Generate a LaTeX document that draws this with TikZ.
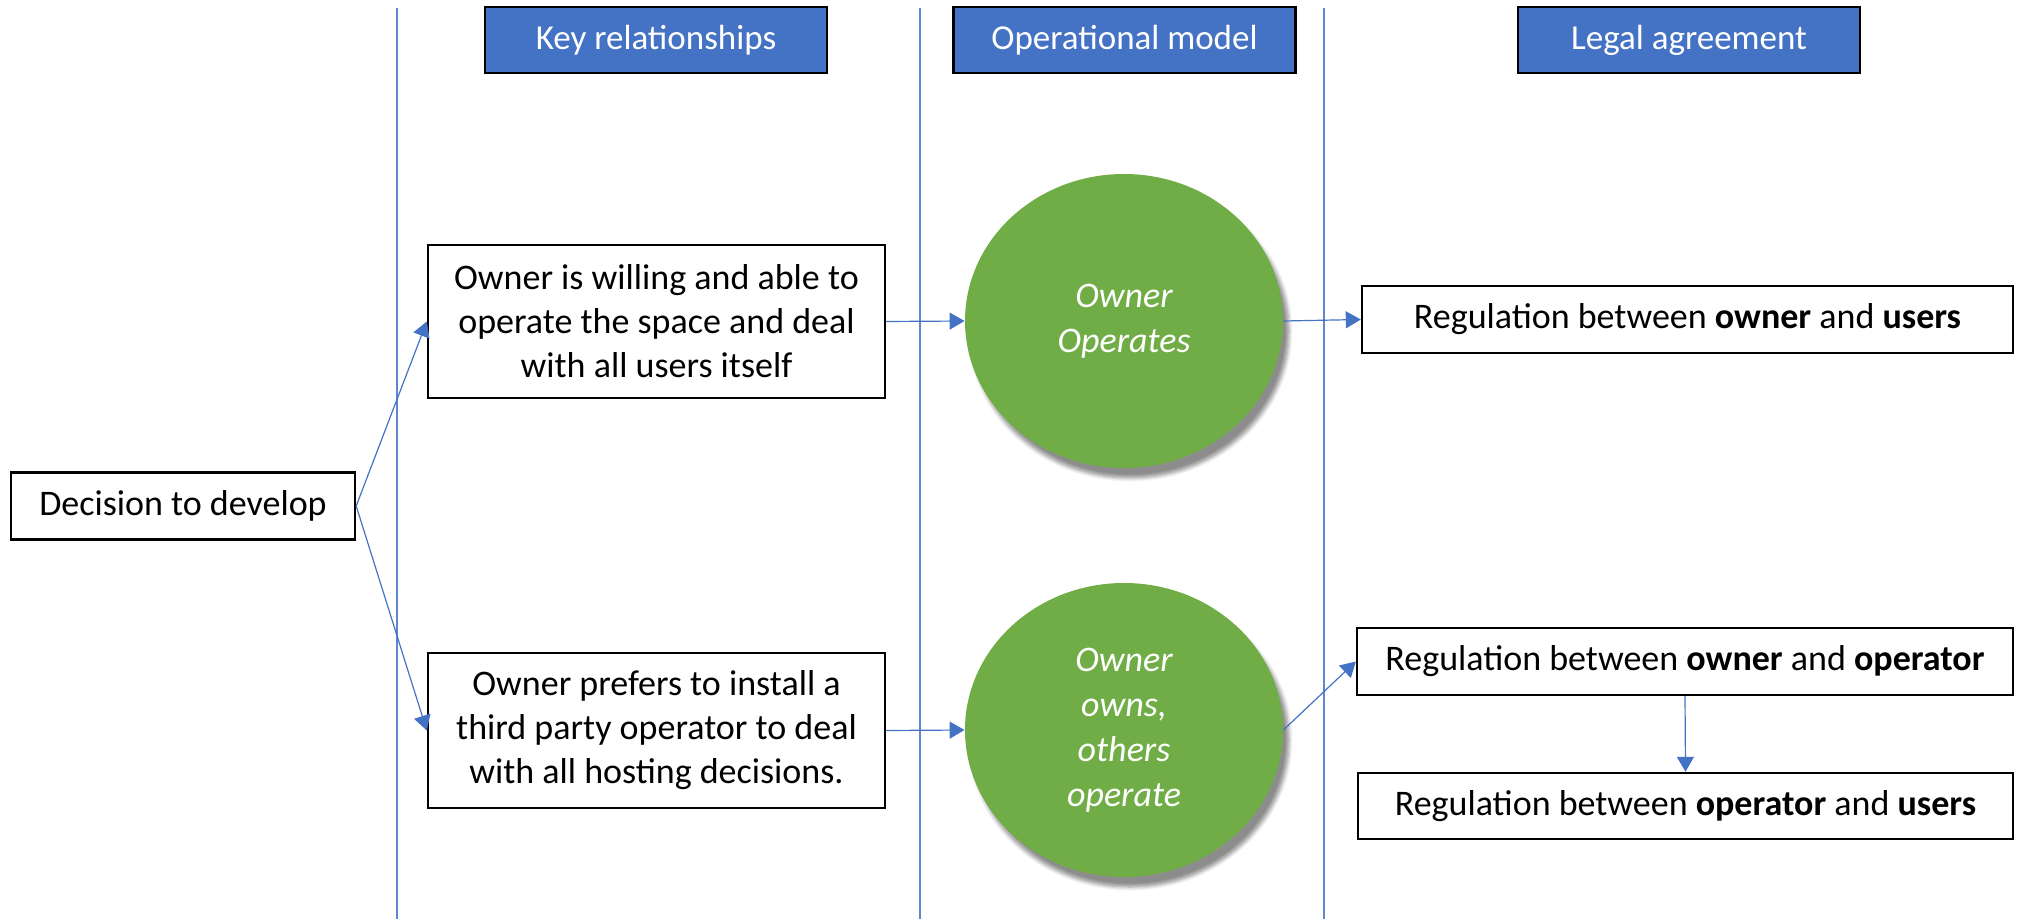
\documentclass[tikz,border=0pt]{standalone}
\usepackage{fontspec}
\setmainfont{Carlito}
\usetikzlibrary{arrows.meta,shapes.geometric,shadows.blur}
\definecolor{hblue}{HTML}{4472C4}
\definecolor{cgreen}{HTML}{70AD47}
\tikzset{
  px/.style={x=0.5pt,y=-0.5pt},
  header/.style={draw=black,line width=1.3pt,fill=hblue,text=white,minimum width=171pt,minimum height=33pt,inner sep=0pt,font=\fontsize{17.5}{21}\selectfont},
  box/.style={draw=black,line width=1.2pt,fill=white,align=center,inner sep=0pt,font=\fontsize{18}{22}\selectfont},
  oval/.style={ellipse,fill=cgreen,text=white,align=center,inner sep=0pt,minimum width=159pt,minimum height=147pt,font=\fontsize{18}{22.5}\selectfont\itshape,blur shadow={shadow xshift=3pt,shadow yshift=-5pt,shadow blur steps=6,shadow opacity=45}},
  lane/.style={draw=hblue!85,line width=0.6pt},
  conn/.style={draw=hblue,line width=0.6pt,-{Triangle[length=7.5pt,width=8.5pt]}}
}
\begin{document}
\begin{tikzpicture}[px]
\useasboundingbox (0,0) rectangle (2040,919);
\coordinate (l1t) at (397,8); \coordinate (l1b) at (397,919);
\coordinate (l2t) at (920,8); \coordinate (l2b) at (920,919);
\coordinate (l3t) at (1324,8); \coordinate (l3b) at (1324,919);
\draw[lane] (l1t) -- (l1b);
\draw[lane] (l2t) -- (l2b);
\draw[lane] (l3t) -- (l3b);

\node[header] (hKR) at (656,40) {Key relationships};
\node[header] (hOM) at (1124.5,40) {Operational model};
\node[header] (hLA) at (1689,40) {Legal agreement};

\node[box,minimum width=172pt,minimum height=33.5pt] (dec) at (183,506) {Decision to develop};
\node[box,minimum width=228.5pt,minimum height=76.5pt] (b1) at (656.5,321.5) {Owner is willing and able to\\operate the space and deal\\with all users itself};
\node[box,minimum width=228.5pt,minimum height=77.5pt] (b2) at (656.5,730.5) {Owner prefers to install a\\third party operator to deal\\with all hosting decisions.};

\node[oval] (c1) at (1124,321) {Owner\\Operates};
\node[oval] (c2) at (1124,730) {Owner\\owns,\\others\\operate};

\node[box,minimum width=325.5pt,minimum height=33.5pt] (r1) at (1687.5,319.5) {Regulation between \textbf{owner} and \textbf{users}};
\node[box,minimum width=328pt,minimum height=33.5pt] (r2) at (1685,661.5) {Regulation between \textbf{owner} and \textbf{operator}};
\node[box,minimum width=327.5pt,minimum height=33pt] (r3) at (1685.5,806) {Regulation between \textbf{operator} and \textbf{users}};

\draw[conn] (dec.east) -- (b1.west);
\draw[conn] (dec.east) -- (b2.west);
\draw[conn] (b1.east) -- (c1.west);
\draw[conn] (b2.east) -- (c2.west);
\draw[conn] (c1.east) -- (r1.west);
\draw[conn] (c2.east) -- (r2.west);
\draw[conn] (r2.south) -- (r3.north);
\end{tikzpicture}
\end{document}
